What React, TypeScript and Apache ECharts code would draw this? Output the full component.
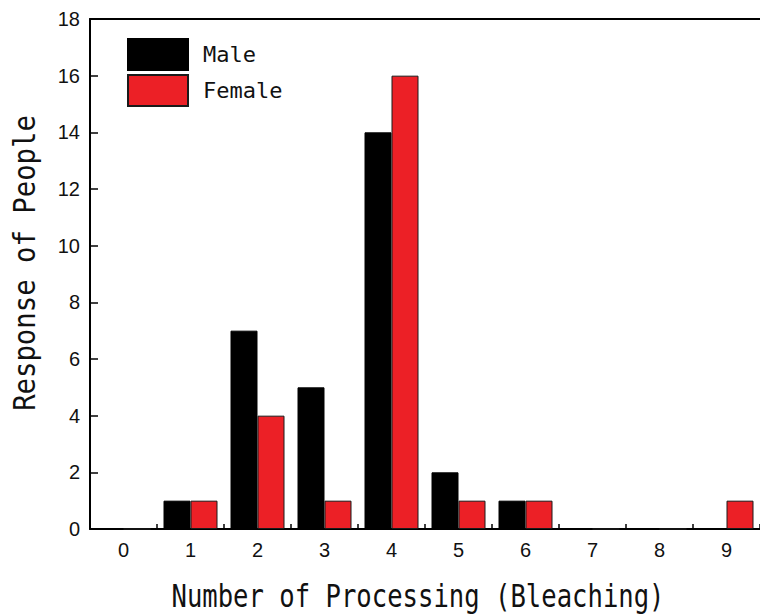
import React, { useEffect, useRef } from "react";
import * as echarts from "echarts";

const categories = ["0", "1", "2", "3", "4", "5", "6", "7", "8", "9"];
const maleValues = [0, 1, 7, 5, 14, 2, 1, 0, 0, 0];
const femaleValues = [0, 1, 4, 1, 16, 1, 1, 0, 0, 1];
const yMin = 0;
const yMax = 18;
const yInterval = 2;
const xTitle = "Number of Processing (Bleaching)";
const yTitle = "Response of People";

export default function App() {
  const ref = useRef<HTMLDivElement>(null);
  useEffect(() => {
    if (!ref.current) return;
    const chart = echarts.init(ref.current, null, { renderer: "svg" });
    const mono = "DejaVu Sans Mono";
    chart.setOption({
      animation: false,
      backgroundColor: "#ffffff",
      grid: { left: 90, right: -5, top: 19, bottom: 85, containLabel: false },
      legend: {
        orient: "vertical",
        left: 127,
        top: 38,
        padding: 0,
        itemWidth: 60,
        itemHeight: 31,
        itemGap: 3,
        icon: "rect",
        textStyle: { fontFamily: mono, fontSize: 22, color: "#111", padding: [0, 0, 0, 10] },
        data: ["Male", "Female"],
      },
      xAxis: [
        {
          type: "category",
          data: categories,
          position: "bottom",
          axisLine: { show: true, lineStyle: { color: "#000", width: 2 } },
          axisTick: { show: true, inside: true, length: 5, alignWithLabel: false, lineStyle: { color: "#000", width: 1.5 } },
          axisLabel: { fontFamily: "Liberation Sans", fontSize: 20, color: "#111", margin: 11 },
          splitLine: { show: false },
        },
        {
          type: "category",
          data: categories,
          position: "top",
          axisLine: { show: true, lineStyle: { color: "#000", width: 2 } },
          axisTick: { show: false },
          axisLabel: { show: false },
          splitLine: { show: false },
        },
      ],
      yAxis: {
        type: "value",
        min: yMin,
        max: yMax,
        interval: yInterval,
        axisLine: { show: true, lineStyle: { color: "#000", width: 2 } },
        axisTick: { show: true, inside: true, length: 8, lineStyle: { color: "#000", width: 1.5 } },
        axisLabel: { fontFamily: "Liberation Sans", fontSize: 20, color: "#111", margin: 10 },
        splitLine: { show: false },
      },
      series: [
        {
          name: "Male",
          type: "bar",
          data: maleValues,
          barWidth: 27,
          barGap: "0%",
          itemStyle: { color: "#000000", borderColor: "#000", borderWidth: 1 },
        },
        {
          name: "Female",
          type: "bar",
          data: femaleValues,
          barWidth: 27,
          barGap: "0%",
          itemStyle: { color: "#ec2026", borderColor: "#1a1a1a", borderWidth: 1 },
        },
      ],
      graphic: [
        {
          type: "text",
          x: 418,
          y: 596,
          scaleX: 0.8,
          style: {
            text: xTitle,
            fontFamily: mono,
            fontSize: 32,
            fill: "#111",
            textAlign: "center",
            textVerticalAlign: "middle",
          },
        },
        {
          type: "text",
          x: 25,
          y: 263,
          rotation: Math.PI / 2,
          scaleX: 0.91,
          style: {
            text: yTitle,
            fontFamily: mono,
            fontSize: 30,
            fill: "#111",
            textAlign: "center",
            textVerticalAlign: "middle",
          },
        },
      ],
    });
    return () => chart.dispose();
  }, []);
  return (
    <div
      ref={ref}
      style={{ position: "fixed", left: 0, top: 0, width: 760, height: 614 }}
    />
  );
}
